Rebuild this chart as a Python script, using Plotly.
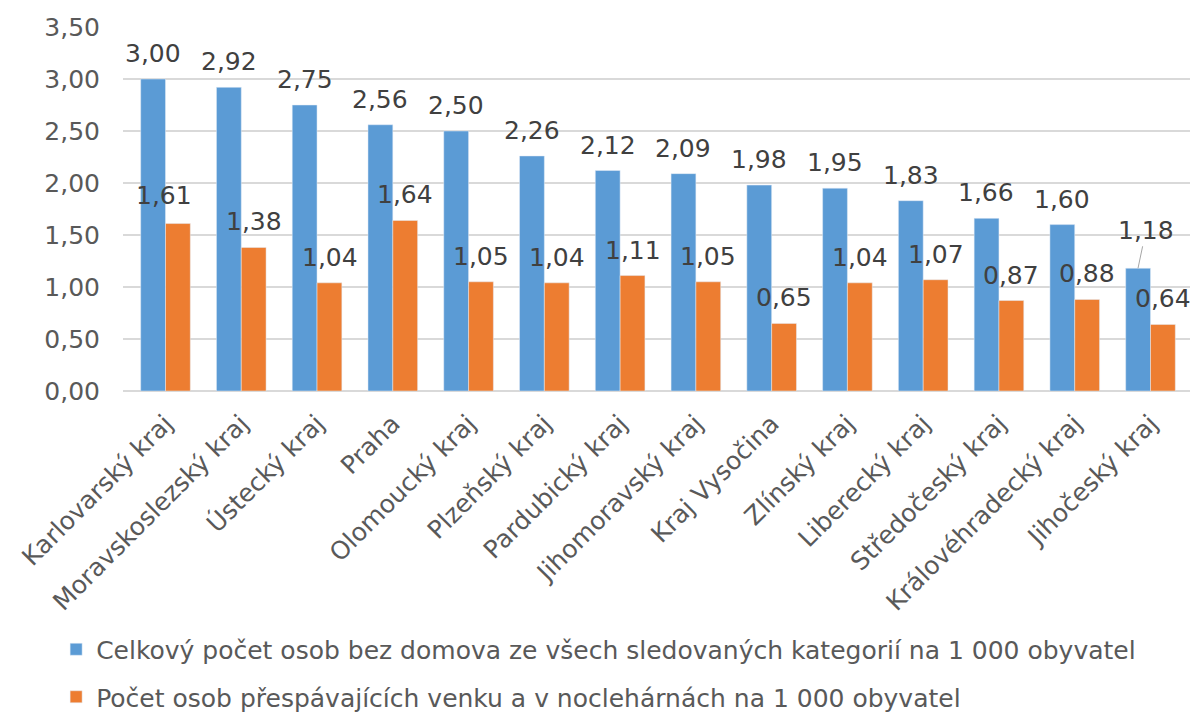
import plotly.graph_objects as go

regions = ["Karlovarský kraj", "Moravskoslezský kraj", "Ústecký kraj", "Praha",
           "Olomoucký kraj", "Plzeňský kraj", "Pardubický kraj", "Jihomoravský kraj",
           "Kraj Vysočina", "Zlínský kraj", "Liberecký kraj", "Středočeský kraj",
           "Královéhradecký kraj", "Jihočeský kraj"]
total_per_1000 = [3.00, 2.92, 2.75, 2.56, 2.50, 2.26, 2.12, 2.09, 1.98, 1.95, 1.83, 1.66, 1.60, 1.18]
outside_per_1000 = [1.61, 1.38, 1.04, 1.64, 1.05, 1.04, 1.11, 1.05, 0.65, 1.04, 1.07, 0.87, 0.88, 0.64]
series_names = ["Celkový počet osob bez domova ze všech sledovaných kategorií na 1 000 obyvatel",
                "Počet osob přespávajících venku a v noclehárnách na 1 000 obyvatel"]
y_ticks = [0, 0.5, 1.0, 1.5, 2.0, 2.5, 3.0, 3.5]

BLUE = "#5B9BD5"
ORANGE = "#ED7D31"
FONT = "DejaVu Sans"
FS = 25

def fmt(v):
    return f"{v:.2f}".replace(".", ",")

fig = go.Figure()
fig.add_trace(go.Bar(x=regions, y=total_per_1000, name=series_names[0],
                     marker_color=BLUE, legendgroup="a"))
fig.add_trace(go.Bar(x=regions, y=outside_per_1000, name=series_names[1],
                     marker_color=ORANGE, legendgroup="b"))

# label nudges (pixels) for labels Excel moved to avoid overlaps
nudge = {(1, 0): (-14, 3)}
leader = {(0, 13): (8, -38)}

half_bar = 12.5
annotations = []
for s, (vals, dx) in enumerate([(total_per_1000, -half_bar), (outside_per_1000, half_bar)]):
    for i, v in enumerate(vals):
        if (s, i) in leader:
            ax, ay = leader[(s, i)]
            annotations.append(dict(x=regions[i], y=v, xref="x", yref="y", text=fmt(v),
                                    showarrow=True, arrowhead=0, arrowwidth=1, arrowcolor="#A6A6A6",
                                    ax=ax, ay=ay, xshift=dx, standoff=0,
                                    font=dict(family=FONT, size=FS, color="#404040")))
            continue
        nx, ny = nudge.get((s, i), (0, 0))
        annotations.append(dict(x=regions[i], y=v, xref="x", yref="y", text=fmt(v),
                                showarrow=False, xanchor="center", yanchor="bottom",
                                xshift=dx + nx, yshift=9 + ny,
                                font=dict(family=FONT, size=FS, color="#404040")))

# the page body adds an 8px margin, so the figure is sized to the visible area
fig.update_layout(
    width=1190, height=707,
    margin=dict(l=115, r=5, t=19, b=324, autoexpand=False),
    paper_bgcolor="white", plot_bgcolor="white",
    barmode="group", bargap=0.345, bargroupgap=0,
    font=dict(family=FONT, size=FS, color="#595959"),
    showlegend=True,
    legend=dict(orientation="v", x=-0.0625, xanchor="left", y=-0.647, yanchor="top",
                font=dict(family=FONT, size=FS, color="#595959"),
                tracegroupgap=12, traceorder="grouped"),
    annotations=annotations,
)
fig.update_xaxes(tickangle=-45, showgrid=False, showline=False, ticks="",
                 ticklabelstandoff=12, automargin=False,
                 tickfont=dict(family=FONT, size=FS, color="#595959"))
fig.update_yaxes(range=[0, 3.5], tickvals=y_ticks, ticktext=[fmt(t) for t in y_ticks],
                 showgrid=True, gridcolor="#D9D9D9", gridwidth=1.5,
                 zeroline=True, zerolinecolor="#D9D9D9", zerolinewidth=1.5,
                 showline=False, ticks="", ticklabelstandoff=22, automargin=False,
                 tickfont=dict(family=FONT, size=FS, color="#595959"))

fig.write_html("out.html")
